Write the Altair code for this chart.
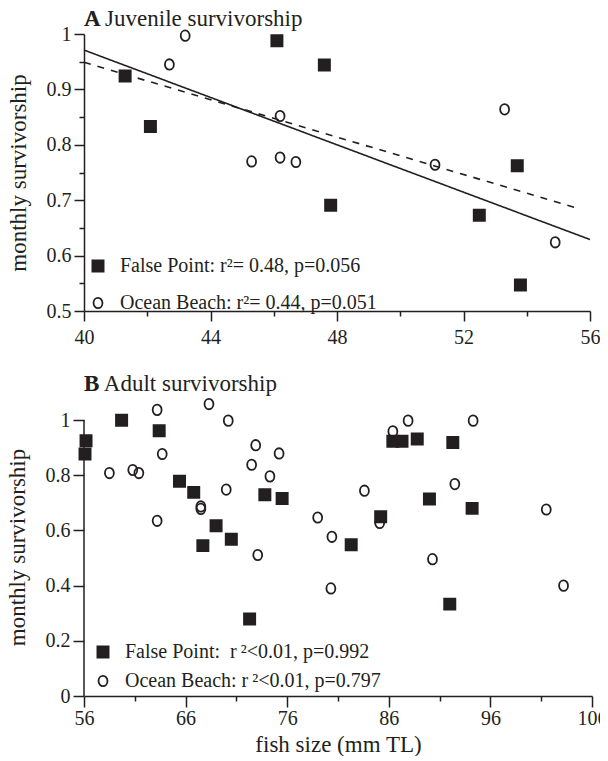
import altair as alt
import pandas as pd

FONT = "Liberation Serif"
INK = "#231f20"

# ---------------- Panel A: juvenile survivorship ----------------
a_fp_size = [41.3, 42.1, 46.1, 47.6, 47.8, 52.5, 53.7, 53.8]
a_fp_surv = [0.924, 0.833, 0.988, 0.944, 0.691, 0.673, 0.762, 0.547]
a_ob_size = [42.7, 43.2, 45.3, 46.2, 46.2, 46.7, 51.1, 53.3, 54.9]
a_ob_surv = [0.945, 0.997, 0.770, 0.852, 0.777, 0.769, 0.764, 0.864, 0.624]
a_fit_solid_size = [40, 56]
a_fit_solid_surv = [0.971, 0.629]
a_fit_dash_size = [40, 55.7]
a_fit_dash_surv = [0.949, 0.684]
a_legend = ["False Point: r\u00b2= 0.48, p=0.056", "Ocean Beach: r\u00b2= 0.44, p=0.051"]
a_xticks = [40, 42, 44, 46, 48, 50, 52, 54, 56]
a_yticks = [0.5, 0.55, 0.6, 0.65, 0.7, 0.75, 0.8, 0.85, 0.9, 0.95, 1.0]

# ---------------- Panel B: adult survivorship ----------------
b_fp_size = [56.2, 56.1, 59.7, 63.4, 65.4, 66.8, 69.0, 67.7, 70.5, 73.8, 75.5,
             72.3, 82.3, 85.2, 86.4, 87.3, 88.8, 92.3, 90.0, 94.2, 92.0]
b_fp_surv = [0.925, 0.877, 0.999, 0.961, 0.778, 0.738, 0.617, 0.545, 0.568, 0.729, 0.716,
             0.279, 0.548, 0.650, 0.923, 0.923, 0.931, 0.919, 0.714, 0.680, 0.333]
b_ob_size = [58.5, 60.8, 61.4, 63.2, 63.7, 63.2, 68.3, 70.2, 67.5, 67.5, 70.0, 72.9, 72.5, 75.2,
             74.3, 73.1, 79.0, 80.4, 83.6, 85.1, 86.4, 87.9, 94.3, 92.5, 90.3, 101.5, 80.3, 103.2]
b_ob_surv = [0.808, 0.819, 0.808, 1.037, 0.877, 0.635, 1.058, 0.998, 0.687, 0.678, 0.748, 0.909, 0.838, 0.879,
             0.796, 0.511, 0.647, 0.577, 0.744, 0.627, 0.959, 0.998, 0.998, 0.768, 0.496, 0.676, 0.390, 0.400]
b_legend = ["False Point:\u00a0 r\u2009\u00b2<0.01, p=0.992", "Ocean Beach: r\u2009\u00b2<0.01, p=0.797"]
b_xticks = [56, 61, 66, 71, 76, 81, 86, 91, 96, 101, 106]
b_yticks = [0, 0.2, 0.4, 0.6, 0.8, 1.0]

SQUARE = "square"
CIRCLE = "M0.8,0A0.8,0.93 0 1,1 -0.8,0A0.8,0.93 0 1,1 0.8,0Z"


def site_frame(sizes, survs, label):
    return pd.DataFrame({"size": sizes, "surv": survs, "site": label})


def make_axis(values, main_test, title=None, tick_main=10, label_pad=4, title_pad=10, domain=True):
    return alt.Axis(
        values=values,
        labelExpr=f"({main_test}) ? format(datum.value, '.1~f') : ''",
        tickSize={"condition": {"test": main_test, "value": tick_main}, "value": 5},
        grid=False, domain=domain, domainColor=INK, domainWidth=1.5,
        tickColor=INK, tickWidth=1.5,
        labelFont=FONT, labelFontSize=20, labelColor=INK, labelPadding=label_pad,
        labelFlush=False, labelOverlap=False,
        titleFont=FONT, titleFontSize=23, titleFontWeight="normal", titleColor=INK,
        titlePadding=title_pad, title=title,
    )


def panel(title_text, letter, fp, ob, labels, xdom, ydom, xaxis, yaxis, width, height,
          legend_x, legend_y, row_pad, fits, extra_layers, title_offset):
    pts = pd.concat([site_frame(ob[0], ob[1], labels[1]), site_frame(fp[0], fp[1], labels[0])])
    xenc = alt.X("size:Q", scale=alt.Scale(domain=xdom, nice=False, zero=False), axis=xaxis)
    yenc = alt.Y("surv:Q", scale=alt.Scale(domain=ydom, nice=False, zero=False), axis=yaxis)
    legend = alt.Legend(
        orient="none", legendX=legend_x, legendY=legend_y, title=None, padding=0,
        labelFont=FONT, labelFontSize=20, labelColor=INK, labelOffset=12, labelLimit=0,
        rowPadding=row_pad, symbolSize=125, symbolStrokeWidth=1.8,
    )
    points = alt.Chart(pts).mark_point(
        filled=True, strokeWidth=1.8, opacity=1, size=125
    ).encode(
        x=xenc, y=yenc,
        shape=alt.Shape("site:N", scale=alt.Scale(domain=labels, range=[SQUARE, CIRCLE]), legend=legend),
        fill=alt.Fill("site:N", scale=alt.Scale(domain=labels, range=[INK, "transparent"]), legend=legend),
        stroke=alt.Stroke("site:N", scale=alt.Scale(domain=labels, range=[INK, INK]), legend=legend),
    )
    layers = []
    for xs, ys, dash in fits:
        line = alt.Chart(pd.DataFrame({"size": xs, "surv": ys})).mark_line(
            color=INK, strokeWidth=1.6, strokeDash=dash
        ).encode(x=xenc, y=yenc)
        layers.append(line)
    layers.extend(extra_layers)
    layers.append(points)
    return alt.layer(*layers).properties(
        width=width, height=height,
        title=alt.Title(
            title_text, subtitle=letter, anchor="start", frame="group",
            font=FONT, fontSize=23, fontWeight="normal", color=INK,
            subtitleFont=FONT, subtitleFontSize=23, subtitleFontWeight="bold",
            subtitleColor=INK, subtitlePadding=-23, offset=title_offset,
        ),
    )


a_main_x = "datum.value % 4 === 0"
a_main_y = "abs(datum.value * 10 - round(datum.value * 10)) < 0.001"
panel_a = panel(
    "A Juvenile survivorship", "A",
    (a_fp_size, a_fp_surv), (a_ob_size, a_ob_surv), a_legend,
    [40, 56], [0.5, 1.0],
    make_axis(a_xticks, a_main_x, None, 10, 6),
    make_axis(a_yticks, a_main_y, "monthly survivorship", 10, 3, 16),
    506, 277, 4, 222, 17,
    [(a_fit_solid_size, a_fit_solid_surv, [1, 0]), (a_fit_dash_size, a_fit_dash_surv, [7, 7])],
    [], -7,
)

b_main_x = "(datum.value - 56) % 10 === 0"
b_main_y = "abs(datum.value * 5 - round(datum.value * 5)) < 0.001"
b_axis_line = alt.Chart(pd.DataFrame({"size": [56], "surv": [0], "top": [1]})).mark_rule(
    color=INK, strokeWidth=1.5
).encode(
    x=alt.X("size:Q"), y=alt.Y("surv:Q"), y2="top:Q"
)
panel_b = panel(
    "B Adult survivorship", "B",
    (b_fp_size, b_fp_surv), (b_ob_size, b_ob_surv), b_legend,
    [56, 106], [0, 1.08],
    make_axis(b_xticks, b_main_x, "fish size (mm TL)", 11, 1, 5),
    make_axis(b_yticks, b_main_y, "monthly survivorship", 11, 3, 16, domain=False),
    508, 298, 9, 244, 9,
    [],
    [b_axis_line], -1,
)

chart = alt.vconcat(panel_a, panel_b, spacing=26).resolve_scale(
    shape="independent", fill="independent", stroke="independent"
).resolve_legend(
    shape="independent", fill="independent", stroke="independent"
).properties(
    padding={"left": -2, "top": 0, "right": -7, "bottom": 0},
    background="white",
).configure_view(stroke=None)

chart.save("out.html", embed_options={"renderer": "svg", "actions": False})
